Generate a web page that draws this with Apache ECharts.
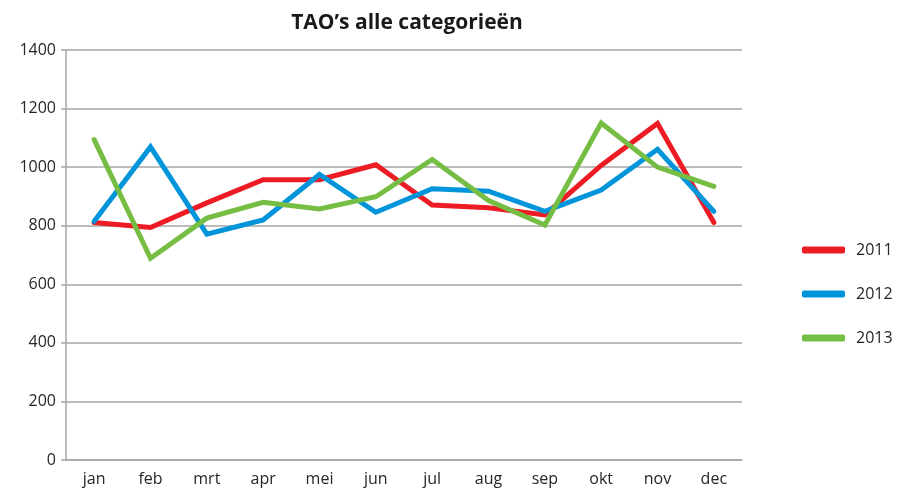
<!DOCTYPE html>
<html>
<head>
  <meta charset="utf-8">
  <script src="https://cdn.jsdelivr.net/npm/echarts@6/dist/echarts.min.js"></script>
  <style>
    html, body { margin: 0; padding: 0; background: #ffffff; }
    #chart-root { width: 899px; height: 493px; }
  </style>
</head>
<body>
  <div id="chart-root"></div>
  <script>
    // maanden + waarden
    const months = ['jan', 'feb', 'mrt', 'apr', 'mei', 'jun', 'jul', 'aug', 'sep', 'okt', 'nov', 'dec'];
    const years = ['2011', '2012', '2013'];
    const v2011 = [811, 794, 878, 957, 957, 1008, 871, 861, 837, 1006, 1149, 811];
    const v2012 = [815, 1069, 771, 820, 975, 846, 926, 918, 849, 922, 1061, 849];
    const v2013 = [1094, 689, 826, 880, 857, 899, 1026, 886, 802, 1151, 1000, 934];
    const yTicks = [0, 200, 400, 600, 800, 1000, 1200, 1400];

    const theme = {
      text: '#262626',
      grid: '#a6a6a6',
      font: '"Open Sans", "DejaVu Sans", sans-serif',
      series: ['#ed1c24', '#0095da', '#76bd43'],
    };

    const seriesData = [v2011, v2012, v2013];

    const option = {
      backgroundColor: '#ffffff',
      animation: false,
      textStyle: { fontFamily: theme.font, color: theme.text },
      title: {
        text: 'TAO\u2019s alle categorieën',
        left: 402,
        textAlign: 'center',
        top: 8,
        textStyle: { fontFamily: theme.font, fontSize: 21, fontWeight: 'bold', color: '#1a1a1a' },
      },
      grid: { left: 66, right: 157, top: 50, bottom: 33 },
      legend: {
        orient: 'vertical',
        left: 797,
        top: 237,
        itemGap: 28,
        itemWidth: 43,
        itemHeight: 7,
        icon: 'roundRect',
        textStyle: { fontFamily: theme.font, fontSize: 16, color: theme.text, padding: [0, 0, 0, 6] },
        data: years,
      },
      xAxis: {
        type: 'category',
        data: months,
        boundaryGap: true,
        axisLine: { show: true, lineStyle: { color: theme.grid, width: 1.5 } },
        axisTick: { show: false },
        axisLabel: { fontFamily: theme.font, fontSize: 16, color: theme.text, margin: 11 },
      },
      yAxis: {
        type: 'value',
        min: yTicks[0],
        max: yTicks[yTicks.length - 1],
        interval: 200,
        axisLine: { show: true, lineStyle: { color: theme.grid, width: 1.5 } },
        axisTick: { show: true, length: 5, lineStyle: { color: theme.grid, width: 1.5 } },
        axisLabel: { fontFamily: theme.font, fontSize: 16, color: theme.text, margin: 10, formatter: (v) => String(v) },
        splitLine: { lineStyle: { color: theme.grid, width: 1.5 } },
      },
      series: years.map((y, i) => ({
        name: y,
        type: 'line',
        data: seriesData[i],
        symbol: 'none',
        color: theme.series[i],
        lineStyle: { width: 5, color: theme.series[i], cap: 'round', join: 'miter' },
      })),
    };

    const chart = echarts.init(document.getElementById('chart-root'), null, { renderer: 'canvas' });
    chart.setOption(option);
  </script>
</body>
</html>
